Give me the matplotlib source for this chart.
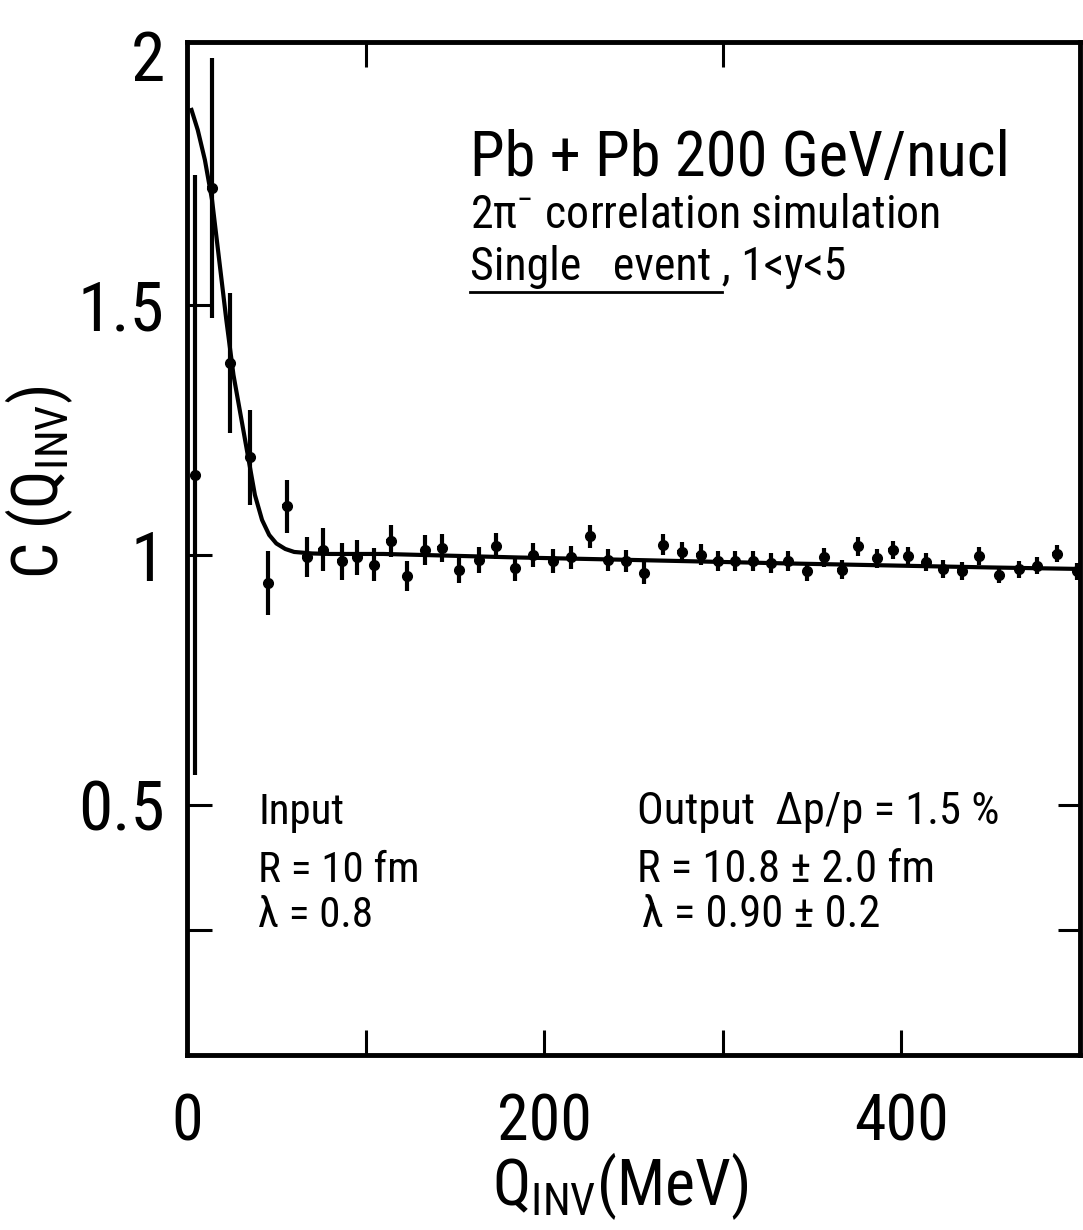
import matplotlib
matplotlib.use('Agg')
import matplotlib.pyplot as plt

# points (Q_inv in MeV, C, vertical error)
q_mev = [4.5, 13.8, 24.1, 35.3, 45.5, 55.8, 67, 76, 86.6, 95,
         104.7, 114, 123.4, 133.3, 142.6, 152.5, 163.7, 173, 183.7, 193.9,
         204.8, 215, 225.6, 235.9, 245.8, 255.9, 266.7, 277, 287.6, 297,
         306.8, 317, 326.7, 336.7, 347.3, 356.8, 366.6, 375.9, 386.5, 395.1,
         403.9, 413.8, 423.5, 433.8, 443.6, 454.8, 466, 476, 487, 498.5]
c_val = [1.16, 1.734, 1.383, 1.195, 0.943, 1.097, 0.995, 1.01, 0.987, 0.995,
         0.98, 1.027, 0.957, 1.01, 1.013, 0.97, 0.99, 1.017, 0.973, 1.0,
         0.987, 0.995, 1.037, 0.99, 0.987, 0.963, 1.02, 1.005, 1.0, 0.987,
         0.987, 0.987, 0.983, 0.987, 0.967, 0.995, 0.97, 1.017, 0.993, 1.01,
         0.998, 0.985, 0.971, 0.967, 0.998, 0.96, 0.971, 0.978, 1.002, 0.967]
c_err = [0.60, 0.26, 0.14, 0.095, 0.064, 0.053, 0.040, 0.043, 0.037, 0.035,
         0.033, 0.032, 0.030, 0.030, 0.028, 0.027, 0.026, 0.026, 0.025, 0.024,
         0.024, 0.023, 0.023, 0.022, 0.022, 0.022, 0.021, 0.021, 0.021, 0.020,
         0.020, 0.020, 0.020, 0.020, 0.019, 0.019, 0.019, 0.019, 0.019, 0.018,
         0.018, 0.018, 0.018, 0.018, 0.018, 0.017, 0.017, 0.017, 0.017, 0.017]
q_binhalf = 2.5

# fitted curve
fit_q = [2.5, 6, 10, 14, 18, 22, 26, 30, 34, 38, 42, 46, 50, 55, 60, 70, 80,
         110, 185, 237, 337, 450, 500]
fit_c = [1.89, 1.85, 1.79, 1.71, 1.59, 1.47, 1.36, 1.28, 1.20, 1.12, 1.07,
         1.04, 1.023, 1.012, 1.006, 1.003, 1.002, 1.002, 0.995, 0.991, 0.983,
         0.975, 0.972]

xticks = [0, 100, 200, 300, 400, 500]
xticklabels = ['0', '', '200', '', '400', '']
yticks = [0.25, 0.5, 1, 1.5, 2]
yticklabels = ['', '0.5', '1', '1.5', '2']

fam = ['Roboto Condensed', 'Roboto', 'DejaVu Sans']
plt.rcParams['font.family'] = fam
plt.rcParams['mathtext.fontset'] = 'custom'
plt.rcParams['mathtext.rm'] = 'Roboto Condensed'
plt.rcParams['mathtext.it'] = 'Roboto Condensed'
plt.rcParams['mathtext.sf'] = 'Roboto Condensed'

fig = plt.figure(figsize=(10.83, 12.3), dpi=100)
ax = fig.add_axes([0.1727, 0.1423, 0.8246, 0.8236])

ax.errorbar(q_mev, c_val, yerr=c_err, xerr=q_binhalf, fmt='o', ms=7,
            color='k', elinewidth=3.0, capsize=0)
ax.plot(fit_q, fit_c, color='k', lw=3.0)

ax.set_xlim(0, 500)
ax.set_ylim(0, 2.026)

for s in ax.spines.values():
    s.set_linewidth(3.5)

ax.set_xticks(xticks)
ax.set_xticklabels(xticklabels)
ax.set_yticks(yticks)
ax.set_yticklabels(yticklabels)
ax.tick_params(axis='both', direction='in', length=18, width=2.2)
ax.tick_params(axis='x', pad=26, labelsize=46)
ax.tick_params(axis='y', pad=16, labelsize=50)
# no visible tick mark at the top label
ax.yaxis.get_major_ticks()[-1].tick1line.set_visible(False)

top = ax.secondary_xaxis('top')
top.set_xticks([100, 300])
top.set_xticklabels([])
top.tick_params(direction='in', length=18, width=2.2)
right = ax.secondary_yaxis('right')
right.set_yticks([0.25, 0.5])
right.set_yticklabels([])
right.tick_params(direction='in', length=16, width=2.2)

ax.set_xlabel(r'Q$_{\rm INV}$(MeV)', fontsize=46)
ax.xaxis.set_label_coords(0.485, -0.094)
ax.set_ylabel(r'C (Q$_{\rm INV}$)', fontsize=46)
ax.yaxis.set_label_coords(-0.125, 0.565)

ax.text(158.5, 1.758, 'Pb + Pb 200 GeV/nucl', fontsize=45, va='baseline')
ax.text(158.5, 1.654, r'2π$^{-}$ correlation simulation', fontsize=33,
        va='baseline')
ax.text(158.5, 1.55, 'Single   event , 1<y<5', fontsize=33, va='baseline')
ax.plot([158.5, 299.5], [1.526, 1.526], color='k', lw=2)

ax.text(39.8, 0.462, 'Input', fontsize=31, va='baseline')
ax.text(39.8, 0.345, 'R = 10 fm', fontsize=31, va='baseline')
ax.text(39.8, 0.255, 'λ = 0.8', fontsize=31, va='baseline')

ax.text(252, 0.462, 'Output  Δp/p = 1.5 %', fontsize=32, va='baseline')
ax.text(252, 0.345, 'R = 10.8 ± 2.0 fm', fontsize=32, va='baseline')
ax.text(255, 0.255, 'λ = 0.90 ± 0.2', fontsize=32, va='baseline')

fig.savefig('out.png', dpi=100)
